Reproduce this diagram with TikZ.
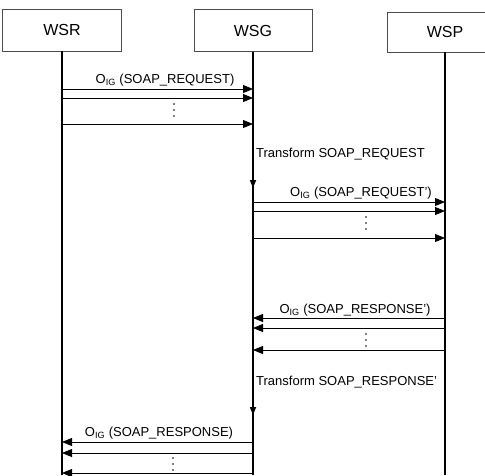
\documentclass[tikz,border=0pt]{standalone}
\usepackage{fontspec}
\setmainfont{Liberation Sans}
\usetikzlibrary{arrows.meta, positioning, calc}

\tikzset{
  actor/.style={draw=black!70, line width=0.6pt, minimum width=118, minimum height=42, inner sep=0pt, font=\fontsize{16}{18}\selectfont},
  lifeline/.style={line width=1.3pt},
  msg/.style={line width=0.8pt, -{Triangle[length=10pt, width=8pt]}},
  work/.style={line width=1.6pt, -{Triangle[length=8pt, width=6pt]}},
  lbl/.style={font=\fontsize{13}{15}\selectfont, inner sep=0pt}
}

\begin{document}
\begin{tikzpicture}[x=1pt, y=-1pt]
  \useasboundingbox (0,0) rectangle (485,475);
  \begin{scope}
  \clip (0,0) rectangle (485,475);

  % Participants
  \node[actor, minimum width=119] (wsr) at (62,30) {WSR};
  \node[actor] (wsg) at (253,30.5) {WSG};
  \node[actor, minimum width=116, minimum height=40] (wsp) at (445,32) {WSP};

  % Lifelines
  \coordinate (wsrEnd) at (62,475);
  \coordinate (wsgEnd) at (253,475);
  \coordinate (wspEnd) at (445,475);
  \draw[lifeline] (wsr.south) -- (wsrEnd);
  \draw[lifeline] (wsg.south) -- (wsgEnd);
  \draw[lifeline] (wsp.south) -- (wspEnd);

  % Request WSR -> WSG
  \foreach \y in {89,98,124}
    \draw[msg] (wsr.south |- 0,\y) -- (wsg.south |- 0,\y);
  \node[lbl] (reqA) at (165,80) {O\textsubscript{IG} (SOAP\_REQUEST)};
  \foreach \d in {104,110,116}
    \fill (174,\d) circle (0.9);

  % Transform request
  \coordinate (trA1) at (253,132);
  \coordinate (trA2) at (253,188);
  \draw[work] (trA1) -- (trA2);
  \node[lbl, anchor=west] (trA) at (256,154) {Transform SOAP\_REQUEST};

  % Request' WSG -> WSP
  \foreach \y in {202,211,238}
    \draw[msg] (wsg.south |- 0,\y) -- (wsp.south |- 0,\y);
  \node[lbl] (reqB) at (361,193) {O\textsubscript{IG} (SOAP\_REQUEST')};
  \foreach \d in {217,223,229}
    \fill (366,\d) circle (0.9);

  % Response' WSP -> WSG
  \foreach \y in {318,328,350}
    \draw[msg] (wsp.south |- 0,\y) -- (wsg.south |- 0,\y);
  \node[lbl] (resB) at (355,310) {O\textsubscript{IG} (SOAP\_RESPONSE')};
  \foreach \d in {334,340,346}
    \fill (366,\d) circle (0.9);

  % Transform response
  \coordinate (trB1) at (253,358);
  \coordinate (trB2) at (253,415);
  \draw[work] (trB1) -- (trB2);
  \node[lbl, anchor=west] (trB) at (256,382) {Transform SOAP\_RESPONSE'};

  % Response WSG -> WSR
  \foreach \y in {442,453,473}
    \draw[msg] (wsg.south |- 0,\y) -- (wsr.south |- 0,\y);
  \node[lbl] (resA) at (159,433) {O\textsubscript{IG} (SOAP\_RESPONSE)};
  \foreach \d in {458,464,470}
    \fill (173,\d) circle (0.9);
  \end{scope}
\end{tikzpicture}
\end{document}
